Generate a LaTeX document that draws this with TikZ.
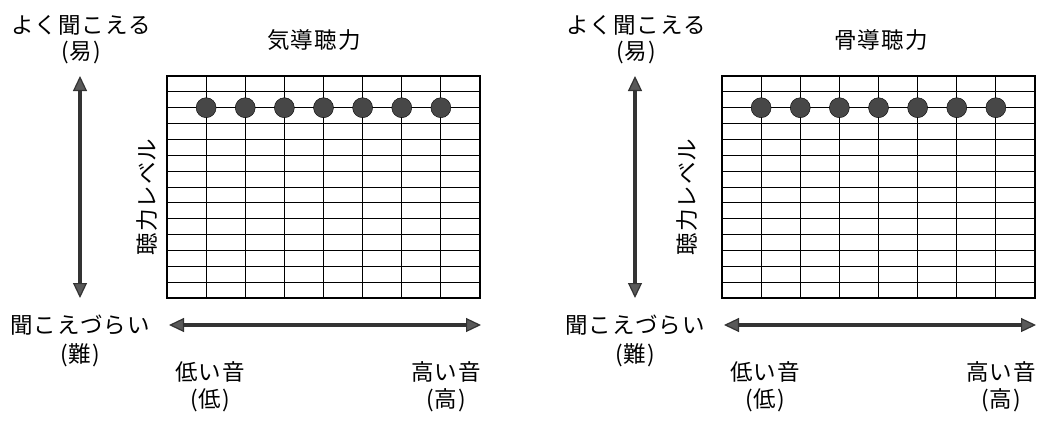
\documentclass[tikz,border=0pt]{standalone}
\usepackage{fontspec}
\setmainfont[LetterSpace=5]{Noto Sans CJK JP}
\usetikzlibrary{arrows.meta}

\tikzset{
  jtext/.style={font=\fontsize{22.5}{23}\selectfont, inner sep=0pt},
  gridline/.style={line width=0.8pt},
  frameline/.style={line width=1.5pt},
  axisarrow/.style={line width=3.4pt, draw=black!80,
    {Triangle[width=14pt,length=15pt,fill=black!65,line width=1.2pt]}-{Triangle[width=14pt,length=15pt,fill=black!65,line width=1.2pt]}},
  dot/.style={circle, draw=black, fill=black!72, minimum size=20pt, inner sep=0pt}
}

\begin{document}
\begin{tikzpicture}[x=1pt,y=-1pt]
\useasboundingbox (0,0) rectangle (1043,421);

% one panel each: air conduction, bone conduction
\foreach \p/\dx/\ttl/\tx/\lx in {a/0/気導聴力/314/147, b/555/骨導聴力/326/132}{
  \begin{scope}[xshift=\dx pt]
    \node[jtext] (\p easy) at (81,25) {よく聞こえる};
    \node[jtext] (\p easyk) at (81,52) {(易)};
    \node[jtext] (\p title) at (\tx,40) {\ttl};
    \node[jtext] (\p hard) at (80,325) {聞こえづらい};
    \node[jtext] (\p hardk) at (80,355) {(難)};
    \node[jtext, rotate=90] (\p level) at (\lx,197) {聴力レベル};
    \node[jtext] (\p low) at (210,372) {低い音};
    \node[jtext] (\p lowk) at (210,400) {(低)};
    \node[jtext] (\p high) at (446,372) {高い音};
    \node[jtext] (\p highk) at (446,400) {(高)};

    % grid
    \draw[frameline] (167,76) rectangle (480,298);
    \foreach \i in {1,...,7}
      \draw[gridline] (167+39.125*\i,76) -- (167+39.125*\i,298);
    \foreach \j in {1,...,13}
      \draw[gridline] (167,76+15.857*\j) -- (480,76+15.857*\j);
    \foreach \i in {1,...,7}
      \node[dot] (\p d\i) at (167+39.125*\i,107.7) {};

    % axes
    \coordinate (\p up) at (80,76);
    \coordinate (\p down) at (80,298);
    \coordinate (\p left) at (169,325);
    \coordinate (\p right) at (481,325);
    \draw[axisarrow] (\p up) -- (\p down);
    \draw[axisarrow] (\p left) -- (\p right);
  \end{scope}
}
\end{tikzpicture}
\end{document}
